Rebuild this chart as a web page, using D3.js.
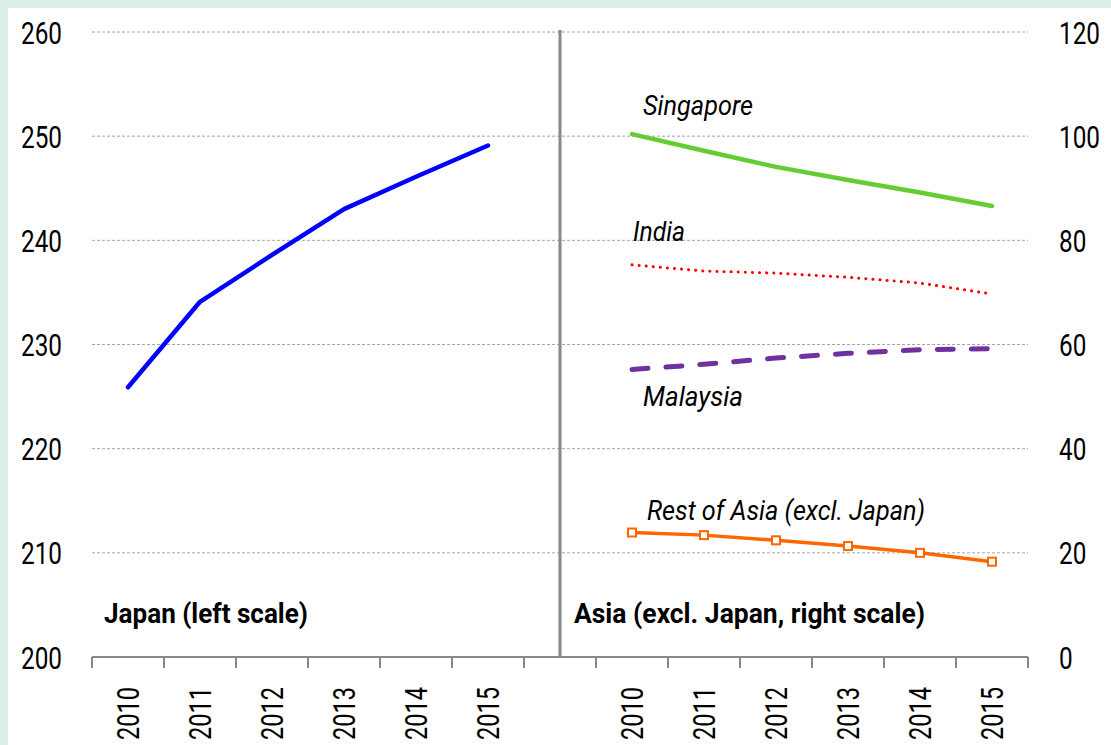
<!DOCTYPE html>
<html>
<head>
<meta charset="utf-8">
<script src="https://cdn.jsdelivr.net/npm/d3@7"></script>
<style>
  html, body { margin: 0; padding: 0; background: #d9efe7; }
  svg { display: block; }
  text { font-family: Roboto, "DejaVu Sans Condensed", sans-serif; fill: #000; }
</style>
</head>
<body>
<svg id="chart" width="1111" height="745"></svg>
<script>
// categories along the bottom: Japan block, a gap, Asia block
var years = ["2010", "2011", "2012", "2013", "2014", "2015"];
var leftTicks = [200, 210, 220, 230, 240, 250, 260];
var rightTicks = [0, 20, 40, 60, 80, 100, 120];

// values
var japan = [225.9, 234.1, 238.6, 243.0, 246.1, 249.1];          // left scale
var singapore = [100.4, 97.2, 94.1, 91.6, 89.2, 86.6];           // right scale
var india = [75.3, 74.1, 73.7, 72.9, 71.8, 69.7];
var malaysia = [55.2, 56.2, 57.4, 58.3, 59.0, 59.2];
var restOfAsia = [23.9, 23.4, 22.4, 21.3, 20.0, 18.3];

var svg = d3.select("#chart"),
    pLeft = 92, pRight = 1028, pTop = 32, pBottom = 657,
    narrow = 0.76; // squeeze Roboto to look like a condensed face

svg.append("rect")
    .attr("x", 8).attr("y", 8)
    .attr("width", 1111).attr("height", 745)
    .attr("fill", "#fff");

// one band per slot: 6 years, a blank slot, 6 years
var slots = years.map(function(d) { return "L" + d; })
    .concat(["gap"])
    .concat(years.map(function(d) { return "R" + d; }));

var x = d3.scaleBand().domain(slots).range([pLeft, pRight]).padding(0);
var yL = d3.scaleLinear().domain([200, 260]).range([pBottom, pTop]);
var yR = d3.scaleLinear().domain([0, 120]).range([pBottom, pTop]);

function cx(key) { return x(key) + x.bandwidth() / 2; }

// grid lines
svg.append("g")
  .selectAll("line")
  .data(rightTicks.slice(1))
  .enter().append("line")
    .attr("x1", pLeft).attr("x2", pRight)
    .attr("y1", function(d) { return yR(d); })
    .attr("y2", function(d) { return yR(d); })
    .attr("stroke", "#a6a6a6")
    .attr("stroke-width", 1)
    .attr("stroke-dasharray", "3,2");

// divider between the two panels
svg.append("line")
    .attr("x1", cx("gap")).attr("x2", cx("gap"))
    .attr("y1", pTop - 2).attr("y2", pBottom)
    .attr("stroke", "#888").attr("stroke-width", 3);

// bottom axis with ticks at every slot boundary
var xAxis = svg.append("g").attr("stroke", "#888").attr("stroke-width", 2);
xAxis.append("line")
    .attr("x1", pLeft).attr("x2", pRight)
    .attr("y1", pBottom).attr("y2", pBottom);
var bounds = slots.map(function(d) { return x(d); }).concat([pRight]);
xAxis.selectAll(".tk")
  .data(bounds)
  .enter().append("line")
    .attr("x1", function(d) { return d; }).attr("x2", function(d) { return d; })
    .attr("y1", pBottom).attr("y2", pBottom + 11);

// year labels, rotated
svg.append("g")
  .selectAll("text")
  .data(slots.filter(function(d) { return d != "gap"; }))
  .enter().append("text")
    .attr("class", "sq")
    .attr("transform", function(d) { return "translate(" + cx(d) + ",687)rotate(-90)"; })
    .attr("text-anchor", "end")
    .attr("dy", "0.36em")
    .attr("font-size", 31)
    .text(function(d) { return d.slice(1); });

// left axis labels
svg.append("g")
  .selectAll("text")
  .data(leftTicks)
  .enter().append("text")
    .attr("class", "sq")
    .attr("x", 62)
    .attr("y", function(d) { return yL(d); })
    .attr("dy", "0.36em")
    .attr("text-anchor", "end")
    .attr("font-size", 32)
    .text(function(d) { return d; });

// right axis labels
svg.append("g")
  .selectAll("text")
  .data(rightTicks)
  .enter().append("text")
    .attr("class", "sq")
    .attr("x", 1059)
    .attr("y", function(d) { return yR(d); })
    .attr("dy", "0.36em")
    .attr("font-size", 32)
    .text(function(d) { return d; });

// series lines
function drawLine(vals, prefix, y, color, width, dash) {
  var line = d3.line()
      .x(function(d, i) { return cx(prefix + years[i]); })
      .y(function(d) { return y(d); });
  return svg.append("path")
      .datum(vals)
      .attr("d", line)
      .attr("fill", "none")
      .attr("stroke", color)
      .attr("stroke-width", width)
      .attr("stroke-linecap", "round")
      .attr("stroke-linejoin", "round")
      .attr("stroke-dasharray", dash || null);
}

drawLine(japan, "L", yL, "#0000ff", 4.5);
drawLine(singapore, "R", yR, "#66cc33", 4.5);
drawLine(india, "R", yR, "#ff0000", 3, "0.1,7");
drawLine(malaysia, "R", yR, "#7030a0", 5, "16,18");
drawLine(restOfAsia, "R", yR, "#ff6600", 3.5);

svg.append("g")
  .selectAll("rect")
  .data(restOfAsia)
  .enter().append("rect")
    .attr("x", function(d, i) { return cx("R" + years[i]) - 4; })
    .attr("y", function(d) { return yR(d) - 4; })
    .attr("width", 8).attr("height", 8)
    .attr("fill", "#fff")
    .attr("stroke", "#ff6600")
    .attr("stroke-width", 2);

// series names (w = width of the name in the picture)
var names = [
  { t: "Singapore", x: 643, y: 115, w: 110 },
  { t: "India", x: 633, y: 241, w: 52 },
  { t: "Malaysia", x: 643, y: 406, w: 100 },
  { t: "Rest of Asia (excl. Japan)", x: 647, y: 520, w: 278 }
];
svg.append("g")
  .selectAll("text")
  .data(names)
  .enter().append("text")
    .attr("x", function(d) { return d.x; })
    .attr("y", function(d) { return d.y; })
    .attr("font-size", 28)
    .attr("font-style", "italic")
    .attr("textLength", function(d) { return d.w; })
    .attr("lengthAdjust", "spacingAndGlyphs")
    .text(function(d) { return d.t; });

// panel titles
svg.append("text")
    .attr("x", 104).attr("y", 623)
    .attr("font-size", 28).attr("font-weight", "bold")
    .attr("textLength", 204).attr("lengthAdjust", "spacingAndGlyphs")
    .text("Japan (left scale)");
svg.append("text")
    .attr("x", 574).attr("y", 623)
    .attr("font-size", 28).attr("font-weight", "bold")
    .attr("textLength", 351).attr("lengthAdjust", "spacingAndGlyphs")
    .text("Asia (excl. Japan, right scale)");

// narrow the number labels
svg.selectAll("text.sq").each(function() {
  var w = this.getComputedTextLength();
  d3.select(this)
      .attr("textLength", w * narrow)
      .attr("lengthAdjust", "spacingAndGlyphs");
});
</script>
</body>
</html>
